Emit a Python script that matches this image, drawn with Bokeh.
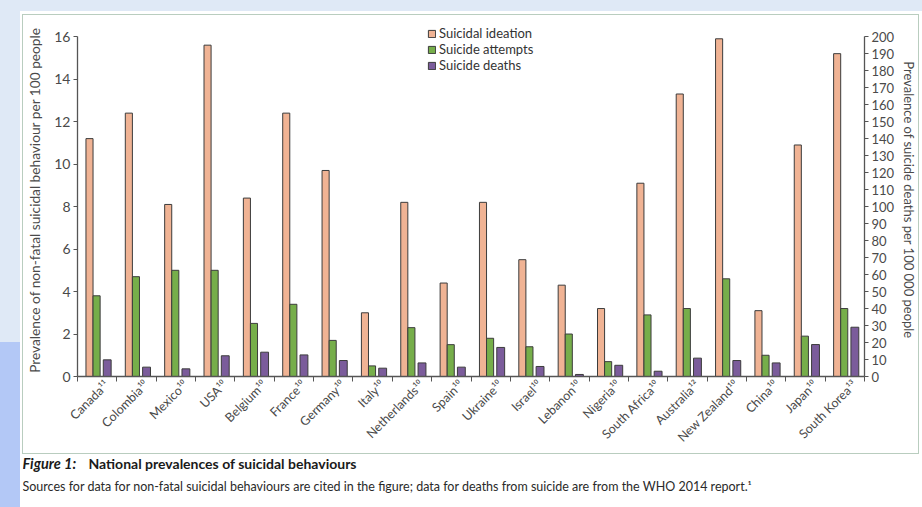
import math
import numpy as np
from bokeh.plotting import figure
from bokeh.models import (Range1d, LinearAxis, FixedTicker, ColumnDataSource,
                          Legend, LegendItem, Spacer)
from bokeh.layouts import column, row
from bokeh.core.properties import value
from bokeh.embed import file_html
from bokeh.resources import INLINE

# ---------------- data ----------------
countries = ["Canada", "Colombia", "Mexico", "USA", "Belgium", "France", "Germany",
             "Italy", "Netherlands", "Spain", "Ukraine", "Israel", "Lebanon", "Nigeria",
             "South Africa", "Australia", "New Zealand", "China", "Japan", "South Korea"]
refs = ["¹¹", "¹⁰", "¹⁰", "¹⁰", "¹⁰", "¹⁰", "¹⁰", "¹⁰", "¹⁰", "¹⁰",
        "¹⁰", "¹⁰", "¹⁰", "¹⁰", "¹⁰", "¹²", "¹⁰", "¹⁰", "¹⁰", "¹³"]
ideation = [11.2, 12.4, 8.1, 15.6, 8.4, 12.4, 9.7, 3.0, 8.2, 4.4,
            8.2, 5.5, 4.3, 3.2, 9.1, 13.3, 15.9, 3.1, 10.9, 15.2]
attempts = [3.8, 4.7, 5.0, 5.0, 2.5, 3.4, 1.7, 0.5, 2.3, 1.5,
            1.8, 1.4, 2.0, 0.7, 2.9, 3.2, 4.6, 1.0, 1.9, 3.2]
deaths = [9.8, 5.5, 4.5, 12.2, 14.3, 12.7, 9.4, 4.9, 8.0, 5.5,
          17.1, 5.9, 1.2, 6.6, 3.1, 10.8, 9.4, 8.0, 18.8, 29.0]
series_names = ["Suicidal ideation", "Suicide attempts", "Suicide deaths"]
left_ticks = [0, 2, 4, 6, 8, 10, 12, 14, 16]
right_ticks = list(range(0, 201, 10))
left_title = "Prevalence of non-fatal suicidal behaviour per 100 people"
right_title = "Prevalence of suicide deaths per 100 000 people"
caption_italic = "Figure 1:"
caption_bold = "National prevalences of suicidal behaviours"
caption_source = ("Sources for data for non-fatal suicidal behaviours are cited in the figure; "
                  "data for deaths from suicide are from the WHO 2014 report.¹")

# ---------------- styles ----------------
FONT = "Lato"
C_IDEA = "#f0b394"
C_ATT = "#76ae4a"
C_DEATH = "#7b5c9b"
EDGE = "#3c3c3c"
AX = "#555555"
TXT = "#4a4a4a"

n = len(countries)
idx = np.arange(n)
src = ColumnDataSource(dict(
    x_i=idx - 0.195, x_a=idx - 0.015, x_d=idx + 0.255,
    ideation=ideation, attempts=attempts, deaths=deaths))

ratio = 200 / 16
ytop = 16.62
p = figure(width=897, height=440, x_range=Range1d(-0.5, n - 0.5),
           y_range=Range1d(0, ytop), output_backend="svg", toolbar_location=None,
           min_border_left=52, min_border_right=54, min_border_top=8,
           min_border_bottom=79)
p.margin = (14, 0, 0, 22)
p.extra_y_ranges = {"deaths": Range1d(0, ytop * ratio)}
p.border_fill_color = "white"
p.background_fill_color = "white"
p.outline_line_color = None
p.xgrid.visible = False
p.ygrid.visible = False
p.styles = {"border": "1px solid #b9cdbf"}

r1 = p.vbar(x="x_i", top="ideation", width=0.18, source=src,
            fill_color=C_IDEA, line_color=EDGE, line_width=1)
r2 = p.vbar(x="x_a", top="attempts", width=0.18, source=src,
            fill_color=C_ATT, line_color=EDGE, line_width=1)
r3 = p.vbar(x="x_d", top="deaths", width=0.2, source=src, y_range_name="deaths",
            fill_color=C_DEATH, line_color=EDGE, line_width=1)

# x axis: labels slightly right of group centre, tick marks between groups
lab_pos = [i + 0.25 for i in range(n)]
xa = p.xaxis[0]
xa.ticker = FixedTicker(ticks=lab_pos, minor_ticks=[i - 0.5 for i in range(n + 1)])
xa.major_label_overrides = {lab_pos[i]: countries[i] + refs[i] for i in range(n)}
xa.major_label_orientation = math.pi / 4
xa.major_tick_out = 0
xa.major_tick_in = 0
xa.minor_tick_out = 5
xa.minor_tick_in = 0
xa.major_label_standoff = 1

# left axis
ya = p.yaxis[0]
ya.ticker = FixedTicker(ticks=left_ticks)
ya.bounds = (0, 16)
ya.axis_label = left_title
ya.major_tick_out = 4
ya.major_tick_in = 0
ya.major_label_standoff = 3
ya.axis_label_standoff = 8

# right axis
ra = LinearAxis(y_range_name="deaths", ticker=FixedTicker(ticks=right_ticks),
                bounds=(0, 200), axis_label=right_title)
ra.major_tick_out = 4
ra.major_tick_in = 0
ra.major_label_standoff = 3
ra.axis_label_standoff = 4
p.add_layout(ra, "right")

for ax, fs, lfs in ((xa, "12.5px", "13px"), (ya, "14px", "13.7px"), (ra, "13px", "13px")):
    ax.axis_line_color = AX
    ax.axis_line_width = 1.3
    ax.major_tick_line_color = AX
    ax.minor_tick_line_color = AX
    ax.major_label_text_font = FONT
    ax.major_label_text_font_size = fs
    ax.major_label_text_color = TXT
    ax.axis_label_text_font = FONT
    ax.axis_label_text_font_size = lfs
    ax.axis_label_text_font_style = "normal"
    ax.axis_label_text_color = TXT

legend = Legend(items=[LegendItem(label=series_names[0], renderers=[r1]),
                       LegendItem(label=series_names[1], renderers=[r2]),
                       LegendItem(label=series_names[2], renderers=[r3])],
                location=(350, 303), margin=0, padding=2, spacing=0,
                glyph_width=9, glyph_height=9, label_height=13, label_standoff=3,
                label_text_font=FONT, label_text_font_size="13px",
                label_text_color="#333333", border_line_color=None,
                background_fill_alpha=0)
p.add_layout(legend)

# caption
cw, ch = 897, 51
c = figure(width=cw, height=ch, x_range=Range1d(0, cw), y_range=Range1d(0, ch),
           x_axis_type=None, y_axis_type=None, output_backend="svg",
           toolbar_location=None, min_border=0)
c.outline_line_color = None
c.xgrid.visible = False
c.ygrid.visible = False
c.border_fill_color = "white"
c.background_fill_color = "white"
c.text(x=[0], y=[42], text=[caption_italic], text_font=value(FONT),
       text_font_style="bold italic", text_font_size="14.5px", text_color="#1a1a1a",
       text_baseline="middle")
c.text(x=[66], y=[42], text=[caption_bold], text_font=value(FONT),
       text_font_style="bold", text_font_size="14px", text_color="#1a1a1a",
       text_baseline="middle")
c.text(x=[0], y=[19], text=[caption_source], text_font=value(FONT),
       text_font_size="12.5px", text_color="#2a2a2a", text_baseline="middle")

layout = column(p, row(Spacer(width=22, height=10), c), spacing=0)

html = file_html(layout, INLINE)
css = ("<style>html{background-color:#ffffff;"
       "background-image:linear-gradient(#dfe9f6,#dfe9f6),"
       "linear-gradient(to bottom,#dfe9f6 0px,#dfe9f6 342px,#b3c8f6 342px,#b3c8f6 100%);"
       "background-size:100% 11px,20px 507px;background-repeat:no-repeat;}"
       "body{background:transparent;}</style>")
html = html.replace("</head>", css + "</head>", 1)
open("out.html", "w").write(html)
